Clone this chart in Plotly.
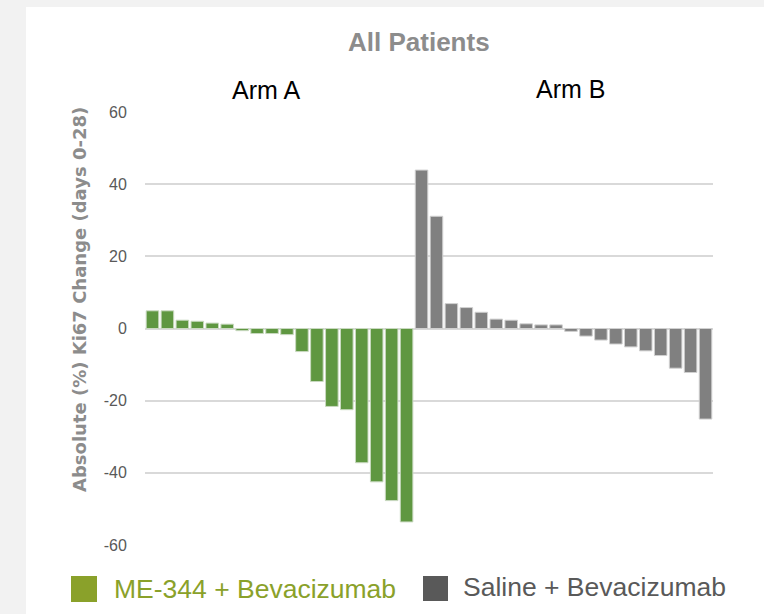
import plotly.graph_objects as go

# ---- data ----
arm_a_values = [4.9, 4.9, 2.3, 2.0, 1.5, 1.2, -0.6, -1.4, -1.4, -1.7,
                -6.4, -14.7, -21.6, -22.5, -37.2, -42.5, -47.7, -53.6]
arm_b_values = [43.9, 31.1, 6.9, 5.8, 4.5, 2.6, 2.3, 1.3, 1.0, 1.0,
                -0.8, -2.1, -3.2, -4.3, -5.1, -6.2, -7.5, -11.0, -12.2, -25.1]
arm_a_patients = [f"A{i+1}" for i in range(len(arm_a_values))]
arm_b_patients = [f"B{i+1}" for i in range(len(arm_b_values))]
y_ticks = [-60, -40, -20, 0, 20, 40, 60]
y_tick_labels = ["-60", "-40", "-20", "0", "20", "40", "60"]
legend_labels = ["ME-344 + Bevacizumab", "Saline + Bevacizumab"]
arm_labels = ["Arm A", "Arm B"]
y_title = "Absolute (%) Ki67 Change (days 0-28)"

GREEN_BAR = "#5f9741"
GRAY_BAR = "#808080"
GREEN_LEG = "#8aa12a"
GRAY_LEG = "#595959"

fig = go.Figure()
fig.add_trace(go.Bar(x=arm_a_patients, y=arm_a_values, name=legend_labels[0],
                     marker=dict(color=GREEN_BAR, line=dict(color="#c9d9c0", width=1)),
                     showlegend=False))
fig.add_trace(go.Bar(x=arm_b_patients, y=arm_b_values, name=legend_labels[1],
                     marker=dict(color=GRAY_BAR, line=dict(color="#d0d0d0", width=1)),
                     showlegend=False))

W, H = 764, 614
L, T = 145, 112
R = W - 713
B = H - 545

def px(x):
    return (x - L) / (W - L - R)

def py(y):
    return (H - B - y) / (H - T - B)

shapes = [
    # white card
    dict(type="rect", xref="paper", yref="paper", x0=px(26), x1=px(800), y0=py(700), y1=py(7),
         fillcolor="white", line=dict(width=0), layer="below"),
    # legend swatches
    dict(type="rect", xref="paper", yref="paper", x0=px(71), x1=px(97), y0=py(602), y1=py(576),
         fillcolor=GREEN_LEG, line=dict(width=0)),
    dict(type="rect", xref="paper", yref="paper", x0=px(423), x1=px(448), y0=py(601), y1=py(576),
         fillcolor=GRAY_LEG, line=dict(width=0)),
]

annotations = [
    dict(text="<b>All Patients</b>", xref="paper", yref="paper", x=px(419), y=py(42),
         showarrow=False, font=dict(family="Liberation Sans", size=26, color="#8c8c8c"),
         xanchor="center", yanchor="middle"),
    dict(text=arm_labels[0], xref="paper", yref="paper", x=px(266), y=py(90),
         showarrow=False, font=dict(family="Liberation Sans", size=25, color="#000000"),
         xanchor="center", yanchor="middle"),
    dict(text=arm_labels[1], xref="paper", yref="paper", x=px(570), y=py(89),
         showarrow=False, font=dict(family="Liberation Sans", size=25, color="#000000"),
         xanchor="center", yanchor="middle"),
    dict(text=legend_labels[0], xref="paper", yref="paper", x=px(112), y=py(589),
         showarrow=False, font=dict(family="Liberation Sans", size=26.5, color=GREEN_LEG),
         xanchor="left", yanchor="middle"),
    dict(text=legend_labels[1], xref="paper", yref="paper", x=px(461), y=py(587),
         showarrow=False, font=dict(family="Liberation Sans", size=26.5, color=GRAY_LEG),
         xanchor="left", yanchor="middle"),
    dict(text="<b>" + y_title + "</b>", xref="paper", yref="paper", x=px(79), y=py(300),
         showarrow=False, textangle=-90,
         font=dict(family="DejaVu Sans", size=18, color="#8c8c8c"),
         xanchor="center", yanchor="middle"),
]

fig.update_layout(
    width=W, height=H,
    margin=dict(l=L, r=R, t=T, b=B),
    paper_bgcolor="#f2f2f2",
    plot_bgcolor="rgba(0,0,0,0)",
    barmode="relative",
    bargap=0.16,
    shapes=shapes,
    annotations=annotations,
    xaxis=dict(showticklabels=False, showgrid=False, zeroline=False, showline=False,
               ticks="", categoryorder="array", categoryarray=arm_a_patients + arm_b_patients),
    yaxis=dict(range=[-60, 60], tickvals=y_ticks, ticktext=y_tick_labels,
               showgrid=True, gridcolor="#d9d9d9", gridwidth=1.5,
               zeroline=True, zerolinecolor="#d9d9d9", zerolinewidth=1.5,
               ticks="outside", ticklen=14, tickcolor="rgba(0,0,0,0)",
               tickfont=dict(family="Liberation Sans", size=16, color="#595959")),
)

fig.write_html("out.html", config={"displayModeBar": False},
               post_script="document.body.style.margin='0';document.body.style.background='#f2f2f2';")
